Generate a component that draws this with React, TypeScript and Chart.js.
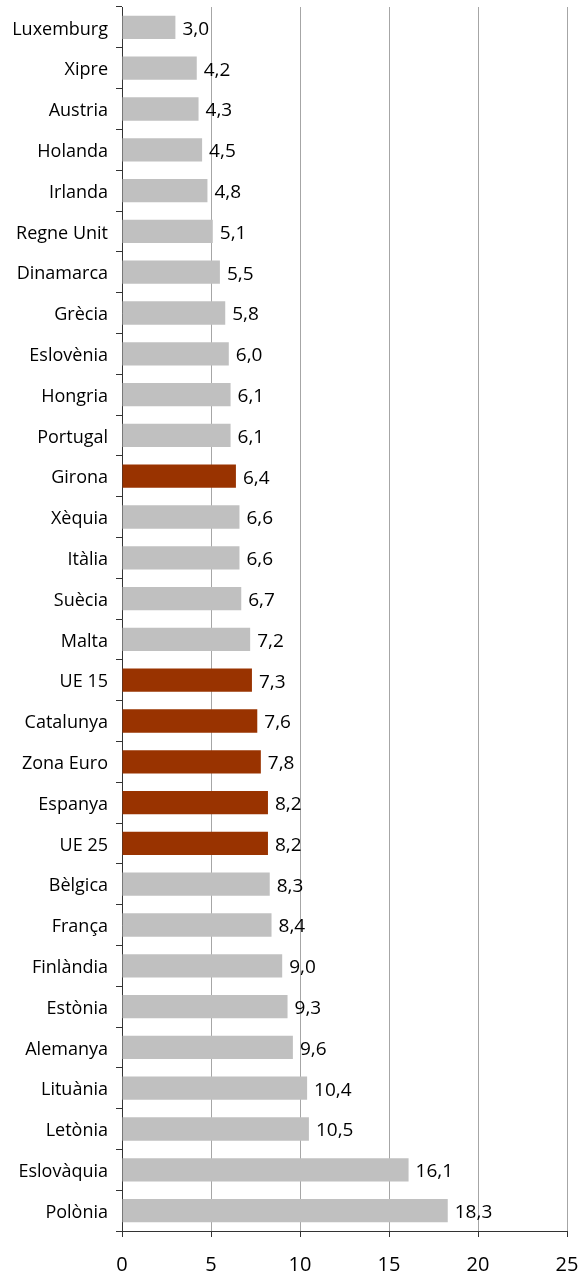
import React, { useEffect, useRef } from "react";
import { Chart, registerables } from "chart.js";

Chart.register(...registerables);

const categories = [
  "Luxemburg", "Xipre", "Austria", "Holanda", "Irlanda", "Regne Unit", "Dinamarca",
  "Grècia", "Eslovènia", "Hongria", "Portugal", "Girona", "Xèquia", "Itàlia", "Suècia",
  "Malta", "UE 15", "Catalunya", "Zona Euro", "Espanya", "UE 25", "Bèlgica", "França",
  "Finlàndia", "Estònia", "Alemanya", "Lituània", "Letònia", "Eslovàquia", "Polònia",
];

const values = [
  3.0, 4.2, 4.3, 4.5, 4.8, 5.1, 5.5, 5.8, 6.0, 6.1, 6.1, 6.4, 6.6, 6.6, 6.7,
  7.2, 7.3, 7.6, 7.8, 8.2, 8.2, 8.3, 8.4, 9.0, 9.3, 9.6, 10.4, 10.5, 16.1, 18.3,
];

const highlighted = ["Girona", "UE 15", "Catalunya", "Zona Euro", "Espanya", "UE 25"];

const xTicks = [0, 5, 10, 15, 20, 25];

const GREY = "#c0c0c0";
const RUST = "#993300";
const FONT = "'Open Sans', Lato, sans-serif";

const valueLabels = {
  id: "valueLabels",
  afterDatasetsDraw(chart: any) {
    const ctx = chart.ctx;
    const meta = chart.getDatasetMeta(0);
    ctx.save();
    ctx.font = `19px ${FONT}`;
    ctx.fillStyle = "#000";
    ctx.textAlign = "left";
    ctx.textBaseline = "middle";
    meta.data.forEach((bar: any, i: number) => {
      const txt = values[i].toFixed(1).replace(".", ",");
      ctx.fillText(txt, bar.x + 7, bar.y + 2);
    });
    ctx.restore();
  },
};

export default function App() {
  const ref = useRef<HTMLCanvasElement>(null);
  useEffect(() => {
    if (!ref.current) return;
    const chart = new Chart(ref.current, {
      type: "bar",
      data: {
        labels: categories,
        datasets: [
          {
            data: values,
            backgroundColor: categories.map((c) => (highlighted.includes(c) ? RUST : GREY)),
            borderWidth: 0,
            barPercentage: 0.57,
            categoryPercentage: 1,
          },
        ],
      },
      options: {
        indexAxis: "y",
        responsive: false,
        animation: false,
        layout: { padding: { top: 7, right: 11, left: 0, bottom: 0 } },
        plugins: {
          legend: { display: false },
          tooltip: { enabled: false },
        },
        scales: {
          x: {
            min: 0,
            max: 25,
            afterBuildTicks(scale: any) {
              scale.ticks = xTicks.map((v) => ({ value: v }));
            },
            afterFit(scale: any) {
              scale.height = 47;
              scale.paddingLeft = 0;
              scale.paddingRight = 0;
            },
            ticks: {
              color: "#000",
              font: { family: FONT, size: 20 },
              padding: 16,
            },
            grid: {
              color: "#a6a6a6",
              lineWidth: 1,
              tickLength: 6,
              tickColor: "#333",
            },
            border: { display: true, color: "#333", width: 1 },
          },
          y: {
            afterFit(scale: any) {
              scale.width = 122;
              scale.paddingTop = 0;
              scale.paddingBottom = 0;
            },
            ticks: {
              color: "#000",
              font: { family: FONT, size: 18 },
              padding: 8,
              labelOffset: 2,
            },
            grid: {
              offset: true,
              drawOnChartArea: false,
              drawTicks: true,
              tickLength: 6,
              tickColor: "#333",
            },
            border: { display: true, color: "#333", width: 1 },
          },
        },
      },
      plugins: [valueLabels],
    });
    return () => chart.destroy();
  }, []);
  return (
    <div style={{ position: "fixed", left: 0, top: 0, width: 578, height: 1278, background: "#fff" }}>
      <canvas ref={ref} width={578} height={1278} />
    </div>
  );
}
